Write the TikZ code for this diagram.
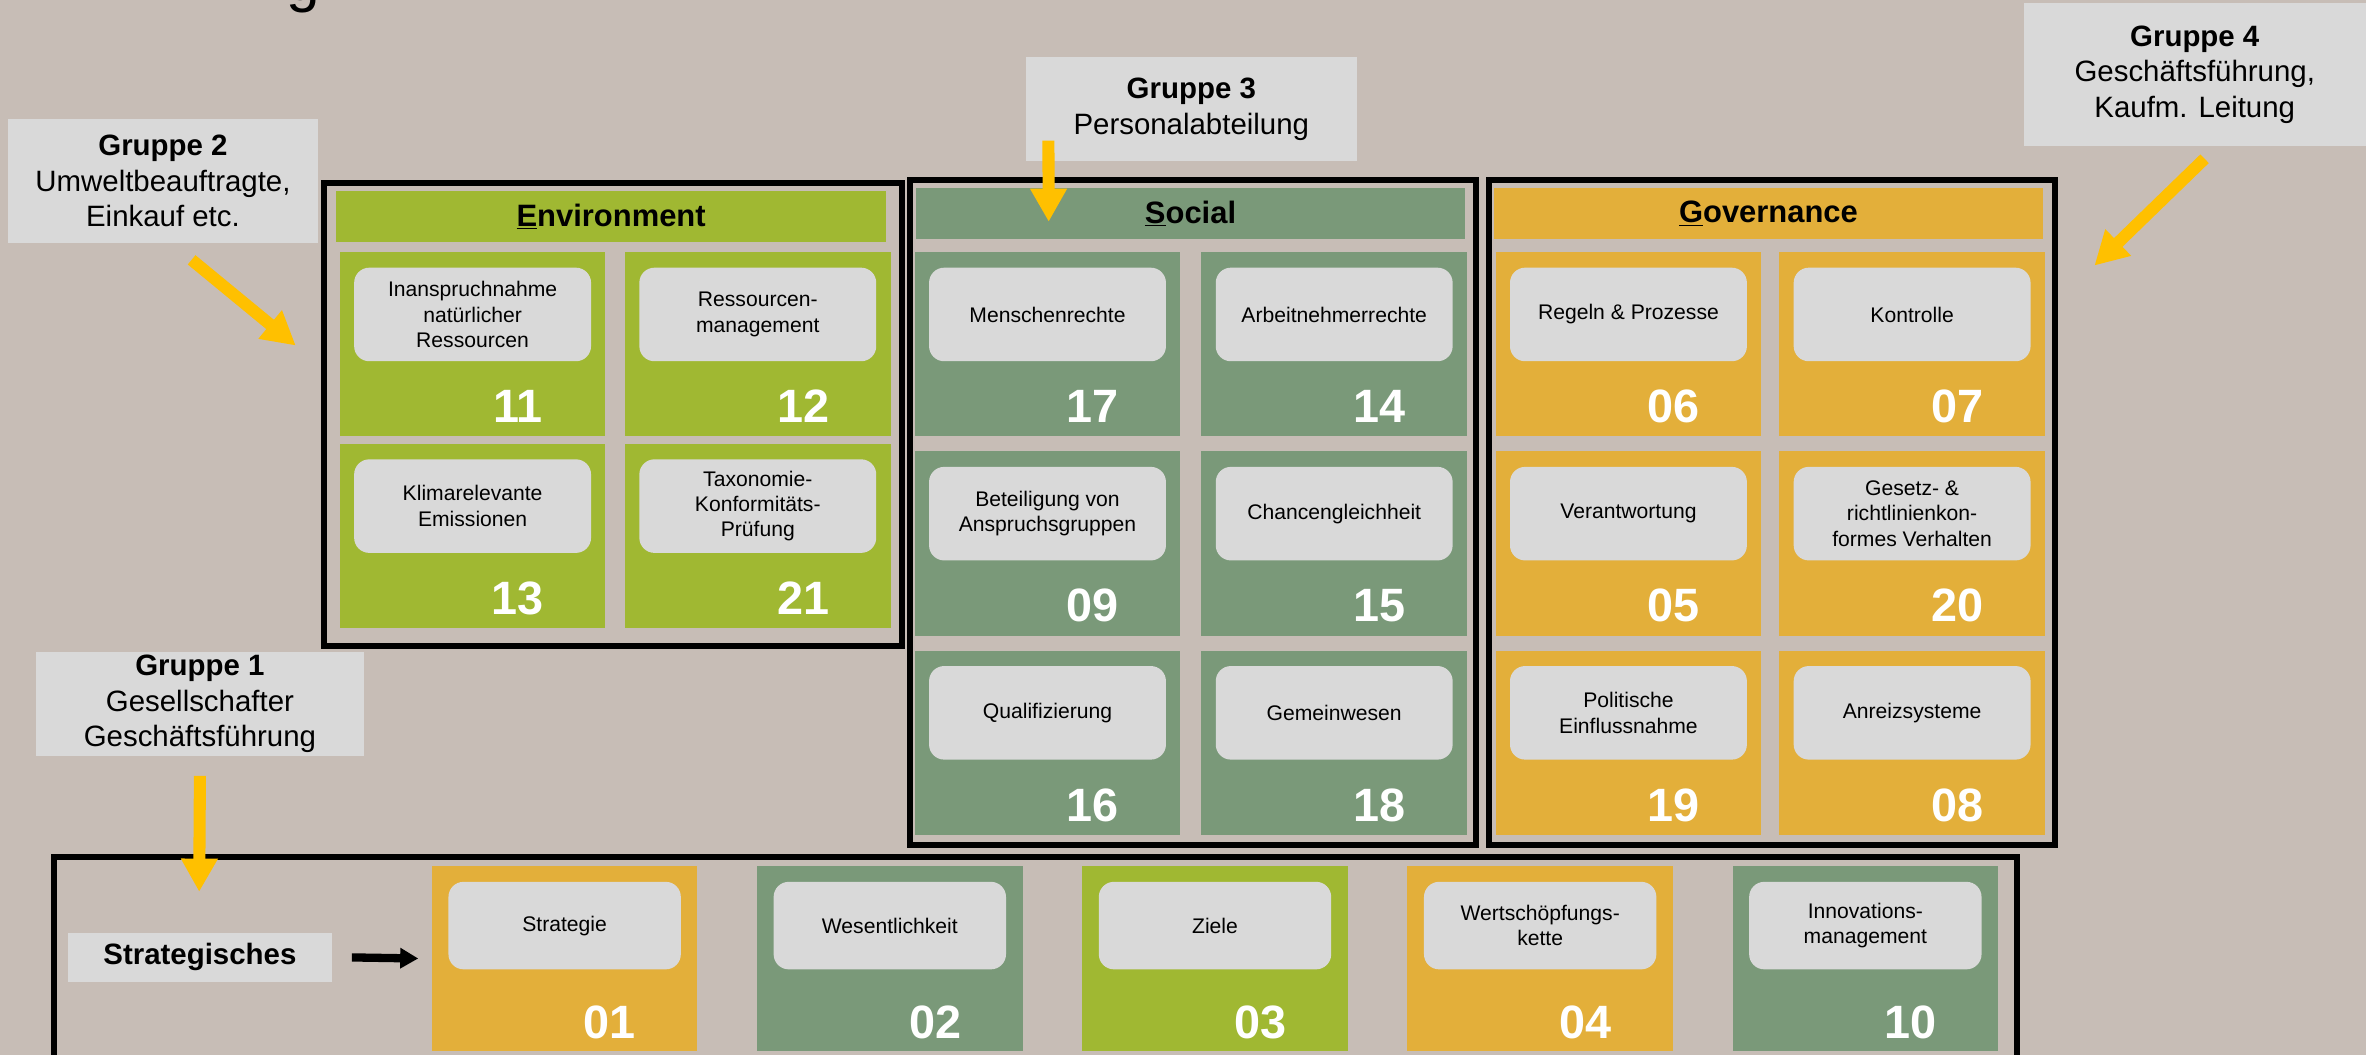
\documentclass[tikz,border=0pt]{standalone}
\usepackage{fontspec}
\setmainfont{Liberation Sans}
\usetikzlibrary{matrix,arrows.meta}

\definecolor{paper}{HTML}{C7BDB6}
\definecolor{envgreen}{HTML}{A0B832}
\definecolor{socgreen}{HTML}{7A9979}
\definecolor{govyellow}{HTML}{E3AF3A}
\definecolor{boxgray}{HTML}{D9D9D9}
\definecolor{arrowyellow}{HTML}{FFC000}

\begin{document}
\begin{tikzpicture}[x=1pt,y=-1pt,
  tilebox/.style={minimum width=176pt,minimum height=122pt,inner sep=0pt,outer sep=0pt,anchor=center},
  headbar/.style={minimum width=364pt,minimum height=34pt,inner sep=0pt,font=\bfseries\fontsize{20.5}{24}\selectfont},
  topicbox/.style={fill=boxgray,rounded corners=10pt,minimum width=157pt,minimum height=62pt,inner sep=2pt,align=center,anchor=north,font=\fontsize{14}{16.8}\selectfont},
  nrlabel/.style={anchor=base,text=white,inner sep=0pt,font=\bfseries\fontsize{31}{36}\selectfont},
  groupbox/.style={fill=boxgray,inner sep=0pt,align=center,font=\fontsize{19.5}{23.5}\selectfont},
  areaframe/.style={draw=black,line width=4pt},
  yarrow/.style={draw=arrowyellow,line width=8pt,-{Triangle[width=23pt,length=22pt]}},
  barrow/.style={draw=black,line width=5.5pt,-{Triangle[width=13pt,length=12pt]}}
]
  \useasboundingbox (0,0) rectangle (1568,699);
  \fill[paper] (0,0) rectangle (1568,699);
  \node[anchor=base,inner sep=0pt,font=\fontsize{40}{48}\selectfont] (title) at (201,0) {g};

  % the three ESG areas and the strategic row
  \draw[areaframe] (215,121) rectangle (598,428);
  \draw[areaframe] (603,119) rectangle (978,560);
  \draw[areaframe] (987,119) rectangle (1362,560);
  \draw[areaframe] (36,568) rectangle (1337,720);

  \node[headbar,fill=envgreen] (envhead) at (405,143.5) {\underline{E}nvironment};
  \node[headbar,fill=socgreen] (sochead) at (789,141.5) {\underline{S}ocial};
  \node[headbar,fill=govyellow] (govhead) at (1172,141.5) {\underline{G}overnance};

  \matrix (env) [matrix of nodes, nodes in empty cells, nodes={tilebox,fill=envgreen},
    column sep=13pt, row sep=5pt, inner sep=0pt, anchor=north west] at (225,167)
  {
    & \\
    & \\
  };
  \matrix (soc) [matrix of nodes, nodes in empty cells, nodes={tilebox,fill=socgreen},
    column sep=14pt, row sep=10pt, inner sep=0pt, anchor=north west] at (606,167)
  {
    & \\
    & \\
    & \\
  };
  \matrix (gov) [matrix of nodes, nodes in empty cells, nodes={tilebox,fill=govyellow},
    column sep=12pt, row sep=10pt, inner sep=0pt, anchor=north west] at (991,167)
  {
    & \\
    & \\
    & \\
  };
  \matrix (strat) [matrix of nodes, nodes in empty cells, nodes={tilebox},
    column 1/.style={nodes={fill=govyellow}}, column 2/.style={nodes={fill=socgreen}},
    column 3/.style={nodes={fill=envgreen}}, column 4/.style={nodes={fill=govyellow}},
    column 5/.style={nodes={fill=socgreen}},
    column sep=39.5pt, inner sep=0pt, anchor=north west] at (286,574)
  {
    & & & & \\
  };

  \foreach \cellname/\txt/\nr in {
    env-1-1/{Inanspruchnahme\\natürlicher\\Ressourcen}/11, env-1-2/{Ressourcen-\\management}/12,
    env-2-1/{Klimarelevante\\Emissionen}/13, env-2-2/{Taxonomie-\\Konformitäts-\\Prüfung}/21,
    soc-1-1/Menschenrechte/17, soc-1-2/Arbeitnehmerrechte/14,
    soc-2-1/{Beteiligung von\\Anspruchsgruppen}/09, soc-2-2/Chancengleichheit/15,
    soc-3-1/Qualifizierung/16, soc-3-2/Gemeinwesen/18,
    gov-1-1/{Regeln \& Prozesse}/06, gov-1-2/Kontrolle/07,
    gov-2-1/Verantwortung/05, gov-2-2/{Gesetz- \&\\richtlinienkon-\\formes Verhalten}/20,
    gov-3-1/{Politische\\Einflussnahme}/19, gov-3-2/Anreizsysteme/08}
  {
    \node[topicbox] (t\nr) at ([yshift=-10pt]\cellname.north) {\txt};
    \node[nrlabel] (n\nr) at ([xshift=30pt,yshift=9pt]\cellname.south) {\nr};
  }
  \foreach \cellname/\txt/\nr in {
    strat-1-1/Strategie/01, strat-1-2/Wesentlichkeit/02, strat-1-3/Ziele/03,
    strat-1-4/{Wertschöpfungs-\\kette}/04, strat-1-5/{Innovations-\\management}/10}
  {
    \node[topicbox,minimum width=154pt,minimum height=58pt] (t\nr) at ([yshift=-10pt]\cellname.north) {\txt};
    \node[nrlabel] (n\nr) at ([xshift=30pt,yshift=8pt]\cellname.south) {\nr};
  }

  % groups
  \node[groupbox,minimum width=206pt,minimum height=82pt] (g2) at (108,120)
    {\textbf{Gruppe 2}\\Umweltbeauftragte,\\Einkauf etc.};
  \node[groupbox,minimum width=219pt,minimum height=69pt] (g3) at (789.5,72.5)
    {\textbf{Gruppe 3}\\Personalabteilung};
  \node[groupbox,minimum width=227pt,minimum height=95pt] (g4) at (1454.5,49.5)
    {\textbf{Gruppe 4}\\Geschäftsführung,\\Kaufm. Leitung};
  \node[groupbox,minimum width=217pt,minimum height=69pt] (g1) at (132.5,466.5)
    {\textbf{Gruppe 1}\\Gesellschafter\\Geschäftsführung};
  \node[groupbox,minimum width=175pt,minimum height=33pt,font=\bfseries\fontsize{19.5}{23.5}\selectfont] (stratlabel) at (132.5,634.5)
    {Strategisches};

  \coordinate (g1tip) at (132,591);
  \coordinate (g2tip) at (196,229);
  \coordinate (g3tip) at (695,147);
  \coordinate (g4tip) at (1388,176);

  \draw[yarrow] ([yshift=-13pt]g1.south) -- (g1tip);
  \draw[yarrow] ([xshift=19pt,yshift=-11pt]g2.south) -- (g2tip);
  \draw[yarrow] ([xshift=15pt,yshift=14pt]g3.south west) -- (g3tip);
  \draw[yarrow] ([xshift=6.5pt,yshift=-8pt]g4.south) -- (g4tip);
  \draw[barrow] ([xshift=13pt]stratlabel.east) -- ([xshift=-9pt]strat-1-1.west);
\end{tikzpicture}
\end{document}
